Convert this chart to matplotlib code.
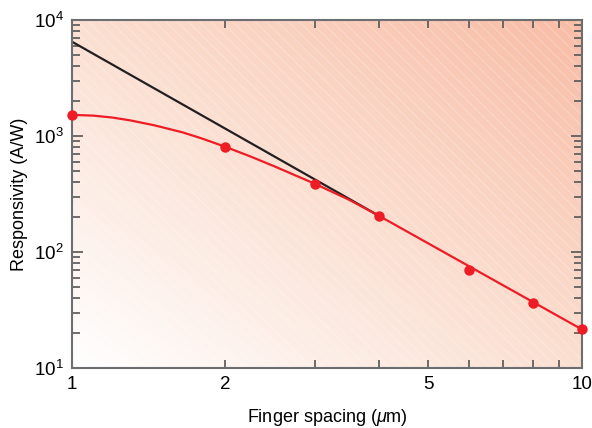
import numpy as np
import matplotlib.pyplot as plt
from matplotlib.ticker import FixedLocator, FuncFormatter, NullFormatter
from matplotlib.colors import LinearSegmentedColormap
from matplotlib.patches import Rectangle

plt.rcParams['font.family'] = 'Liberation Sans'
plt.rcParams['mathtext.fontset'] = 'custom'
plt.rcParams['mathtext.rm'] = 'Liberation Sans'
plt.rcParams['mathtext.it'] = 'Liberation Sans:italic'
plt.rcParams['hatch.linewidth'] = 0.6

# measured points
spacing = [1, 2, 3, 4, 6, 8, 10]
resp = [1520, 804, 385, 205, 70, 36, 21.5]

# smooth fit curve
fit_x = [1, 1.1, 1.2, 1.3, 1.45, 1.65, 1.8, 2, 2.25, 2.5, 3, 3.5, 4, 10]
fit_y = [1520, 1499, 1442, 1364, 1237, 1073, 950, 806, 660, 545, 386, 281, 205, 21.5]

# asymptote
asym_x = [1, 4]
asym_y = [6500, 205]

fig = plt.figure(figsize=(5.92, 4.28), dpi=100)
ax = fig.add_axes([0.1216, 0.1402, 0.8614, 0.8131])

# background gradient
u, v = np.meshgrid(np.linspace(0, 1, 300), np.linspace(0, 1, 300))
grad = (u + v) / 2
cmap = LinearSegmentedColormap.from_list('bg', ['#ffffff', '#fbdfd1', '#f8bca5'])
ax.imshow(grad, cmap=cmap, origin='lower', extent=[0, 1, 0, 1],
          transform=ax.transAxes, aspect='auto', zorder=0, vmin=0, vmax=1)
ax.add_patch(Rectangle((0, 0), 1, 1, transform=ax.transAxes, facecolor='none',
                       edgecolor='white', hatch='\\\\\\', linewidth=0,
                       alpha=0.3, zorder=0.5))

ax.set_xscale('log')
ax.set_yscale('log')
ax.set_xlim(1, 10)
ax.set_ylim(10, 1e4)

ax.plot(asym_x, asym_y, color='#231f20', lw=1.6, zorder=2)
ax.plot(fit_x, fit_y, color='#ee1c25', lw=1.6, zorder=3)
ax.plot(spacing, resp, 'o', color='#ee1c25', ms=6.5, zorder=4, clip_on=False)

ax.xaxis.set_major_locator(FixedLocator([1, 2, 5, 10]))
ax.xaxis.set_minor_locator(FixedLocator([3, 4, 6, 7, 8, 9]))
ax.xaxis.set_major_formatter(FuncFormatter(lambda x, p: '%d' % x))
ax.xaxis.set_minor_formatter(NullFormatter())
ax.yaxis.set_major_locator(FixedLocator([10, 100, 1000, 10000]))
ax.yaxis.set_major_formatter(FuncFormatter(
    lambda y, p: r'$\mathregular{10^{%d}}$' % round(np.log10(y))))

ax.tick_params(which='both', direction='in', top=True, right=True,
               color='#555555', labelsize=13.5, width=1.2, pad=6)
ax.tick_params(axis='y', which='major', length=8)
ax.tick_params(axis='y', which='minor', length=5.5)
ax.tick_params(axis='x', which='both', length=6)

for s in ax.spines.values():
    s.set_color('#6d6e71')
    s.set_linewidth(1.5)

ax.set_xlabel(r'Finger spacing ($\mu$m)', fontsize=13, labelpad=10)
ax.set_ylabel('Responsivity (A/W)', fontsize=13, labelpad=4)

fig.savefig('out.png', dpi=100)
